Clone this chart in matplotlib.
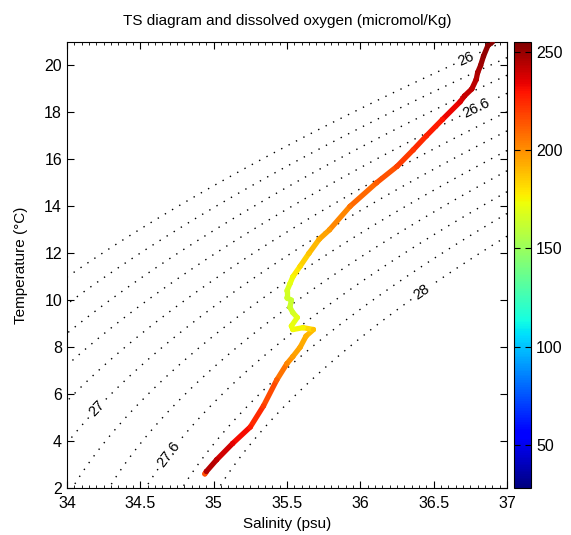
import numpy as np
import matplotlib
matplotlib.use("Agg")
import matplotlib.pyplot as plt
from matplotlib.collections import LineCollection

plt.rcParams['font.family'] = ['Liberation Sans', 'DejaVu Sans']

# profile, deep -> surface
salinity = [34.94, 34.95, 35.02, 35.13, 35.25, 35.34, 35.43, 35.50, 35.54, 35.59,
            35.63, 35.68, 35.61, 35.54, 35.53, 35.57, 35.54, 35.52, 35.53, 35.50,
            35.50, 35.52, 35.54, 35.59, 35.65, 35.72, 35.79, 35.93, 36.11, 36.25,
            36.36, 36.45, 36.56, 36.68, 36.71, 36.76, 36.79, 36.80, 36.82, 36.84,
            36.87, 36.90]
temperature = [2.60, 2.70, 3.20, 3.90, 4.60, 5.50, 6.60, 7.30, 7.60, 8.00,
               8.47, 8.75, 8.83, 8.75, 8.90, 9.26, 9.47, 9.70, 10.00, 10.10,
               10.40, 10.70, 11.00, 11.45, 12.00, 12.60, 13.00, 14.00, 15.00, 15.70,
               16.40, 17.00, 17.70, 18.45, 18.70, 19.00, 19.40, 19.70, 20.00, 20.40,
               20.85, 21.00]
oxygen = [215, 245, 242, 235, 228, 220, 212, 202, 197, 194,
          192, 188, 176, 174, 172, 170, 166, 164, 162, 164,
          166, 170, 175, 182, 187, 193, 198, 207, 212, 218,
          222, 226, 230, 236, 240, 242, 244, 246, 248, 250,
          252, 254]

sigma_levels = [26.0, 26.2, 26.4, 26.6, 26.8, 27.0, 27.2, 27.4, 27.6, 27.8, 28.0]
labelled = [26.0, 26.6, 27.0, 27.6, 28.0]
label_pos = [(36.73, 20.1), (36.80, 18.1), (34.20, 5.4), (34.70, 3.4), (36.43, 10.2)]


def sigma_t(S, T):
    # UNESCO 1983 density at surface pressure
    rw = (999.842594 + 6.793952e-2 * T - 9.095290e-3 * T**2 + 1.001685e-4 * T**3
          - 1.120083e-6 * T**4 + 6.536332e-9 * T**5)
    a = 0.824493 - 4.0899e-3 * T + 7.6438e-5 * T**2 - 8.2467e-7 * T**3 + 5.3875e-9 * T**4
    b = -5.72466e-3 + 1.0227e-4 * T - 1.6546e-6 * T**2
    return rw + a * S + b * S**1.5 + 4.8314e-4 * S**2 - 1000.0


fig = plt.figure(figsize=(5.71, 5.35), dpi=100)
ax = fig.add_axes([0.1173, 0.0879, 0.7706, 0.8336])
cax = fig.add_axes([0.900, 0.0879, 0.030, 0.8336])

sg, tg = np.meshgrid(np.linspace(34, 37, 300), np.linspace(2, 21, 300))
sig = sigma_t(sg, tg)
dotted = dict(colors='k', linewidths=1.0, linestyles=[(0, (1, 5))])
plain = [lv for lv in sigma_levels if lv not in labelled]
ax.contour(sg, tg, sig, levels=plain, **dotted)
cs = ax.contour(sg, tg, sig, levels=labelled, **dotted)
ax.clabel(cs, manual=label_pos, fmt=lambda v: '%g' % v,
          fontsize=10.5, inline=True, inline_spacing=4)

cmap = plt.get_cmap('jet')
norm = plt.Normalize(28, 255)
pts = np.column_stack([salinity, temperature])
segs = np.stack([pts[:-1], pts[1:]], axis=1)
ox = np.array(oxygen, dtype=float)
lc = LineCollection(segs, cmap=cmap, norm=norm, linewidths=3.8, capstyle='round')
lc.set_array((ox[:-1] + ox[1:]) / 2)
ax.add_collection(lc)
sc = ax.scatter(salinity, temperature, c=oxygen, cmap=cmap, norm=norm, s=14,
                edgecolors='none', zorder=3)

ax.set_xlim(34, 37)
ax.set_ylim(2, 21)
ax.set_xticks([34, 34.5, 35, 35.5, 36, 36.5, 37])
ax.set_xticklabels(['34', '34.5', '35', '35.5', '36', '36.5', '37'])
ax.set_xticks(np.arange(34, 37.001, 0.05), minor=True)
ax.set_yticks(range(2, 21, 2))
ax.tick_params(which='both', direction='in', top=True, right=True, labelsize=11.5)
ax.tick_params(which='major', length=5)
ax.tick_params(which='minor', length=2.5)
ax.tick_params(axis='x', which='major', pad=6)
ax.tick_params(axis='y', which='minor', left=False, right=False)
ax.set_xlabel('Salinity (psu)', fontsize=11, labelpad=4)
ax.set_ylabel('Temperature (\u00b0C)', fontsize=11, labelpad=12)
ax.set_title('TS diagram and dissolved oxygen (micromol/Kg)', fontsize=11, pad=12)

cb = fig.colorbar(sc, cax=cax)
cb.set_ticks([50, 100, 150, 200, 250])
cax.tick_params(direction='in', left=True, right=True, labelsize=11.5, length=4)

fig.savefig('out.png', dpi=100)
